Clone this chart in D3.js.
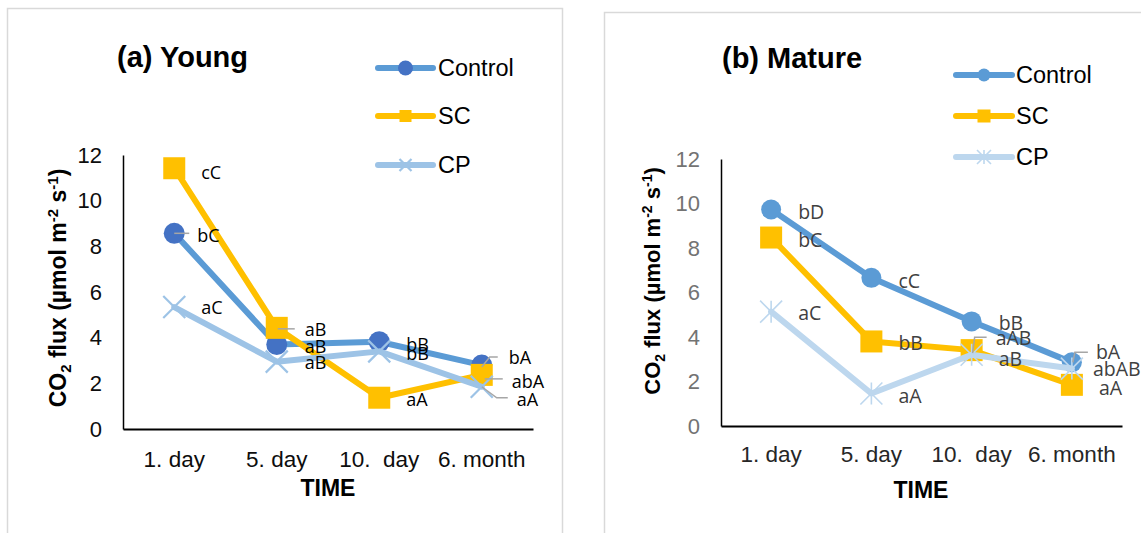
<!DOCTYPE html>
<html>
<head>
<meta charset="utf-8">
<script src="https://cdn.jsdelivr.net/npm/d3@7"></script>
<style>
  body { margin: 0; background: #fff; }
  svg { display: block; }
</style>
</head>
<body>
<div id="chart"></div>
<script>
// CO2 flux after treatment, young vs mature stands
const categories = ["1. day", "5. day", "10.  day", "6. month"];
const seriesNames = ["Control", "SC", "CP"];
const yTicks = [0, 2, 4, 6, 8, 10, 12];

const youngControl = [8.57, 3.70, 3.82, 2.80];
const youngSC = [11.42, 4.43, 1.37, 2.37];
const youngCP = [5.34, 2.95, 3.40, 1.85];
const youngControlLetters = ["bC", "aB", "bB", "bA"];
const youngSCLetters = ["cC", "aB", "aA", "abA"];
const youngCPLetters = ["aC", "aB", "bB", "aA"];

const matureControl = [9.73, 6.66, 4.70, 2.86];
const matureSC = [8.47, 3.80, 3.41, 1.85];
const matureCP = [5.14, 1.46, 3.20, 2.58];
const matureControlLetters = ["bD", "cC", "bB", "bA"];
const matureSCLetters = ["bC", "bB", "aAB", "aA"];
const matureCPLetters = ["aC", "aA", "aB", "abAB"];

const W = 1141, H = 533;
const ARIAL = "'Liberation Sans', Arial, sans-serif";
const LABELFONT = "'Open Sans', 'Noto Sans', sans-serif";

const svg = d3.select('#chart').append('svg')
  .attr('width', W).attr('height', H);

// label placement: [dx, dy, leader points relative to the marker]
const youngLayout = {
  Control: [[23, 2, [[0, 0], [15, 0]]], [28, 2], [27, 3], [27, -7, [[0, 2], [8, -8], [16, -8]]]],
  SC: [[27, 4], [28, 2, [[1, 1], [18, 1]]], [27, 2], [30, 7, [[3, 4], [21, 4]]]],
  CP: [[27, 1], [28, 1], [27, 2], [35, 13, [[0, 0], [15, 11], [26, 11]]]]
};
const matureLayout = {
  Control: [[27, 3], [27, 3], [27, 2], [24, -10, [[1, 0], [3, -10], [16, -10]]]],
  SC: [[27, 3], [27, 2], [24, -12, [[1, 3], [3, -13], [15, -13]]], [27, 3]],
  CP: [[27, 2], [27, 3], [27, 4], [21, 1]]
};

const panels = [
  {
    title: '(a) Young', titleX: 117, titleY: 57,
    box: [7.5, 8.5, 555, 560],
    x0: 123, x1: 533, yBottom: 429, yTop: 155,
    tickColor: '#0d0d0d', catColor: '#0d0d0d', labelColor: '#000', labelSize: 18,
    yTitleX: 58, yTitleY: 288, yTitleSize: 23, timeX: 328, timeY: 488, catPad: 22,
    legend: { x0: 378, x1: 433, tx: 438, ys: [68, 116, 165], r: 7.5, sq: 12, star: 6 },
    colors: { Control: ['#5B9BD5', '#4472C4'], SC: ['#FFC000', '#FFC000'], CP: ['#9DC3E6', '#9DC3E6'] },
    shapes: { Control: 'circle', SC: 'square', CP: 'x' },
    size: { circle: 10.5, square: 22, x: 11 },
    values: { Control: youngControl, SC: youngSC, CP: youngCP },
    letters: { Control: youngControlLetters, SC: youngSCLetters, CP: youngCPLetters },
    layout: youngLayout
  },
  {
    title: '(b) Mature', titleX: 722, titleY: 58,
    box: [604.5, 12.5, 600, 560],
    x0: 721, x1: 1122, yBottom: 426, yTop: 159,
    tickColor: '#737373', catColor: '#262626', labelColor: '#404040', labelSize: 19.5,
    yTitleX: 652, yTitleY: 281, yTitleSize: 22, timeX: 921, timeY: 490, catPad: 20,
    legend: { x0: 956, x1: 1012, tx: 1016, ys: [75, 116, 157], r: 6.5, sq: 13, star: 7 },
    colors: { Control: ['#5B9BD5', '#5B9BD5'], SC: ['#FFC000', '#FFC000'], CP: ['#BDD7EE', '#BDD7EE'] },
    shapes: { Control: 'circle', SC: 'square', CP: 'star' },
    size: { circle: 10, square: 22, x: 11 },
    values: { Control: matureControl, SC: matureSC, CP: matureCP },
    letters: { Control: matureControlLetters, SC: matureSCLetters, CP: matureCPLetters },
    layout: matureLayout
  }
];

function drawMarker(g, shape, color, s) {
  if (shape === 'circle') {
    g.append('circle').attr('r', s.circle).attr('fill', color);
  } else if (shape === 'square') {
    g.append('rect').attr('x', -s.square / 2).attr('y', -s.square / 2)
      .attr('width', s.square).attr('height', s.square).attr('fill', color);
  } else {
    const k = s.x;
    let d = `M${-k},${-k}L${k},${k}M${-k},${k}L${k},${-k}`;
    if (shape === 'star') d += `M0,${-k}L0,${k}`;
    g.append('path').attr('d', d).attr('stroke', color)
      .attr('stroke-width', shape === 'star' ? 1.6 : 2.2).attr('fill', 'none');
  }
}

function yTitle(g, x, y, fs) {
  const small = Math.round(fs * 0.64);
  const t = g.append('text')
    .attr('transform', `translate(${x},${y}) rotate(-90)`)
    .attr('text-anchor', 'middle')
    .attr('dy', '0.35em')
    .style('font-family', ARIAL).style('font-weight', 'bold')
    .style('font-size', fs + 'px').attr('fill', '#000');
  t.append('tspan').text('CO');
  t.append('tspan').attr('dy', 5).style('font-size', small + 'px').text('2');
  t.append('tspan').attr('dy', -5).text(' flux (µmol m');
  t.append('tspan').attr('dy', -8).style('font-size', small + 'px').text('-2');
  t.append('tspan').attr('dy', 8).text(' s');
  t.append('tspan').attr('dy', -8).style('font-size', small + 'px').text('-1');
  t.append('tspan').attr('dy', 8).text(')');
}

panels.forEach(p => {
  const g = svg.append('g');

  g.append('rect')
    .attr('x', p.box[0]).attr('y', p.box[1])
    .attr('width', p.box[2]).attr('height', p.box[3])
    .attr('fill', '#fff').attr('stroke', '#d9d9d9').attr('stroke-width', 1.5);

  const x = d3.scaleBand().domain(categories).range([p.x0, p.x1]);
  const y = d3.scaleLinear().domain([0, 12]).range([p.yBottom, p.yTop]);
  const cx = c => x(c) + x.bandwidth() / 2;

  // y axis
  const ya = g.append('g').attr('transform', `translate(${p.x0},0)`)
    .call(d3.axisLeft(y).tickValues(yTicks).tickSize(0).tickSizeOuter(0).tickPadding(21));
  ya.select('.domain').attr('stroke', '#000').attr('stroke-width', 1.5);
  ya.selectAll('text').style('font-family', ARIAL).style('font-size', '22px').attr('fill', p.tickColor);

  // x axis
  const xa = g.append('g').attr('transform', `translate(0,${p.yBottom})`)
    .call(d3.axisBottom(x).tickSize(0).tickSizeOuter(0).tickPadding(p.catPad));
  xa.select('.domain').attr('stroke', '#000').attr('stroke-width', 1.8);
  xa.selectAll('text').style('font-family', ARIAL).style('font-size', '22.5px')
    .style('white-space', 'pre').attr('fill', p.catColor);

  // titles
  g.append('text').attr('x', p.titleX).attr('y', p.titleY).attr('dy', '0.35em')
    .style('font-family', ARIAL).style('font-weight', 'bold').style('font-size', '29px')
    .attr('fill', '#000').text(p.title);
  g.append('text').attr('x', p.timeX).attr('y', p.timeY).attr('dy', '0.35em')
    .attr('text-anchor', 'middle')
    .style('font-family', ARIAL).style('font-weight', 'bold').style('font-size', '23px')
    .attr('fill', '#000').text('TIME');
  yTitle(g, p.yTitleX, p.yTitleY, p.yTitleSize);

  // legend
  seriesNames.forEach((name, i) => {
    const ly = p.legend.ys[i];
    const [lineColor, markColor] = p.colors[name];
    g.append('line').attr('x1', p.legend.x0).attr('x2', p.legend.x1)
      .attr('y1', ly).attr('y2', ly)
      .attr('stroke', lineColor).attr('stroke-width', 6).attr('stroke-linecap', 'round');
    const m = g.append('g').attr('transform', `translate(${(p.legend.x0 + p.legend.x1) / 2},${ly})`);
    drawMarker(m, p.shapes[name], markColor,
      { circle: p.legend.r, square: p.legend.sq, x: p.legend.star });
    g.append('text').attr('x', p.legend.tx).attr('y', ly).attr('dy', '0.35em')
      .style('font-family', ARIAL).style('font-size', '23.5px').attr('fill', '#000').text(name);
  });

  // series lines and markers
  const line = d3.line().x(d => cx(d.cat)).y(d => y(d.v)).curve(d3.curveLinear);
  seriesNames.forEach(name => {
    const pts = categories.map((c, i) => ({ cat: c, v: p.values[name][i] }));
    const [lineColor, markColor] = p.colors[name];
    g.append('path').datum(pts).attr('d', line)
      .attr('fill', 'none').attr('stroke', lineColor).attr('stroke-width', 6)
      .attr('stroke-linejoin', 'round').attr('stroke-linecap', 'round');
    pts.forEach(d => {
      const m = g.append('g').attr('transform', `translate(${cx(d.cat)},${y(d.v)})`);
      drawMarker(m, p.shapes[name], markColor, p.size);
    });
  });

  // leader lines and significance letters on top
  seriesNames.forEach(name => {
    categories.forEach((c, i) => {
      const px = cx(c), py = y(p.values[name][i]);
      const [dx, dy, leader] = p.layout[name][i];
      if (leader) {
        g.append('path')
          .attr('d', d3.line()(leader.map(([a, b]) => [px + a, py + b])))
          .attr('fill', 'none').attr('stroke', '#a6a6a6').attr('stroke-width', 1.5);
      }
      g.append('text').attr('x', px + dx).attr('y', py + dy).attr('dy', '0.35em')
        .style('font-family', LABELFONT).style('font-size', p.labelSize + 'px')
        .attr('fill', p.labelColor).text(p.letters[name][i]);
    });
  });
});
</script>
</body>
</html>
